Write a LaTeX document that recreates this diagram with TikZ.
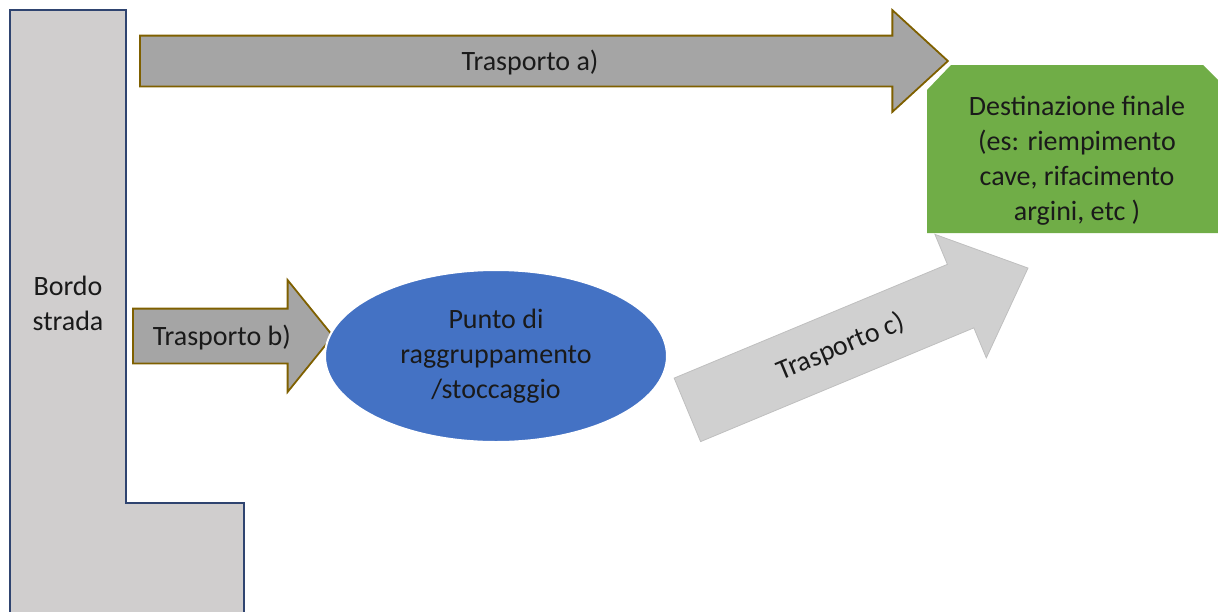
\documentclass[tikz,border=0pt]{standalone}
\usepackage{fontspec}
\setmainfont{Carlito}
\usetikzlibrary{shapes.arrows,shapes.geometric}

\definecolor{grigiostrada}{HTML}{D0CECE}
\definecolor{blustrada}{HTML}{2F4470}
\definecolor{grigiofreccia}{HTML}{A5A5A5}
\definecolor{orofreccia}{HTML}{7F6000}
\definecolor{grigiochiaro}{HTML}{D0D0D0}
\definecolor{bordochiaro}{HTML}{BFBFBF}
\definecolor{verdefinale}{HTML}{70AD47}
\definecolor{blupunto}{HTML}{4472C4}
\definecolor{testo}{HTML}{1A1A1A}

\begin{document}
\begin{tikzpicture}[x=1pt,y=-1pt]

\tikzset{testo/.style={font=\fontsize{28}{35}\selectfont, text=testo, align=center},
         freccia/.style={testo, single arrow, draw=orofreccia, fill=grigiofreccia, line width=1.8pt,
                         inner sep=0pt, anchor=tail},
         frecciac/.style={freccia, draw=bordochiaro, fill=grigiochiaro, line width=0.8pt}}

\useasboundingbox (0,0) rectangle (1218,611);

\draw[fill=grigiostrada, draw=blustrada, line width=1.6pt]
    (10,10) -- (126,10) -- (126,503) -- (244,503) -- (244,625) -- (10,625) -- cycle;
\node[testo] (bordo) at (68,303) {Bordo\\strada};

\node[freccia, minimum height=808pt, text height=33.5pt, text depth=15.5pt,
      single arrow head extend=25.5pt, single arrow tip angle=85] (trasportoa) at (139,61) {Trasporto a)};

\node[freccia, minimum height=200pt, text height=35.5pt, text depth=17.5pt,
      single arrow head extend=28.5pt, single arrow tip angle=102] (trasportob) at (132,336) {Trasporto b)};

\node[ellipse, testo, fill=blupunto, draw=white, line width=2pt,
      minimum width=342pt, minimum height=172pt] (punto) at (496,356)
      {Punto di\\raggruppamento\\/stoccaggio};

\node[frecciac, rotate=22.6, minimum height=369pt, text height=43pt, text depth=25pt,
      single arrow head extend=32.5pt, single arrow tip angle=85] (trasportoc) at (687,410) {Trasporto c)};

\fill[verdefinale] (927,90) -- (951,65) -- (1203,65) -- (1228,90) -- (1228,233) -- (927,233) -- cycle;
\node[testo] (destinazione) at (1077,161)
      {Destinazione finale\\(es: riempimento\\cave, rifacimento\\argini, etc )};

\end{tikzpicture}
\end{document}
